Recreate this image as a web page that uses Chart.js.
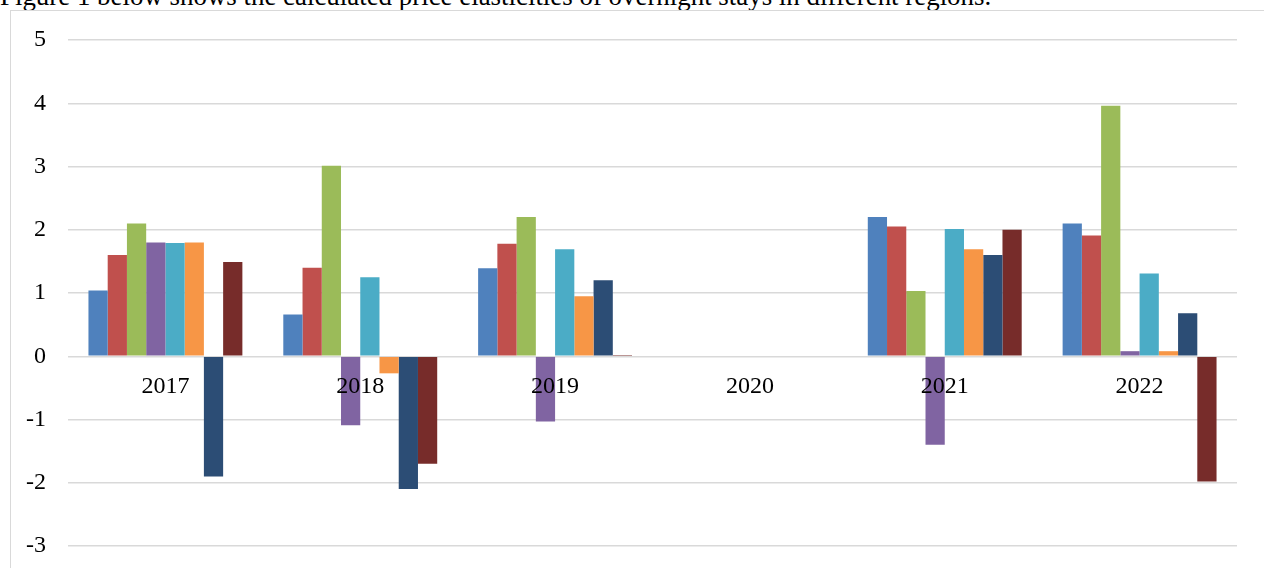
<!DOCTYPE html>
<html>
<head>
<meta charset="utf-8">
<script src="https://cdn.jsdelivr.net/npm/chart.js@4/dist/chart.umd.min.js"></script>
<style>
  html, body { margin: 0; padding: 0; background: #fff; overflow: hidden; }
  #page { position: relative; width: 1264px; height: 568px; overflow: hidden; }
  #caption {
    position: absolute; left: 0px; top: -17px; white-space: nowrap;
    font-family: "Liberation Serif", "Times New Roman", serif; font-size: 26.9px; line-height: 26.9px; color: #000;
  }
  #frame {
    position: absolute; left: 10px; top: 10px; width: 1300px; height: 600px;
    border: 1px solid #d9d9d9; box-sizing: border-box;
  }
  #wrap { position: absolute; left: 0; top: 0; width: 1264px; height: 568px; }
</style>
</head>
<body>
<div id="page">
  <div id="caption">Figure 1 below shows the calculated price elasticities of overnight stays in different regions.</div>
  <div id="frame"></div>
  <div id="wrap"><canvas id="chart-div"></canvas></div>
</div>
<script>
// years on the category axis
var anos = ['2017', '2018', '2019', '2020', '2021', '2022'];

// one series per region (2020 has no values)
var regiao1 = [1.04, 0.66, 1.39, null, 2.20, 2.10];
var regiao2 = [1.60, 1.40, 1.78, null, 2.05, 1.91];
var regiao3 = [2.10, 3.01, 2.20, null, 1.03, 3.96];
var regiao4 = [1.80, -1.09, -1.03, null, -1.40, 0.08];
var regiao5 = [1.79, 1.25, 1.69, null, 2.01, 1.31];
var regiao6 = [1.80, -0.27, 0.95, null, 1.69, 0.08];
var regiao7 = [-1.90, -2.10, 1.20, null, 1.60, 0.68];
var regiao8 = [1.49, -1.70, 0.02, null, 2.00, -1.98];

var nomes = ['Region 1', 'Region 2', 'Region 3', 'Region 4', 'Region 5', 'Region 6', 'Region 7', 'Region 8'];
var series = [regiao1, regiao2, regiao3, regiao4, regiao5, regiao6, regiao7, regiao8];
var cores = ['#4f81bd', '#c0504d', '#9bbb59', '#8064a2', '#4bacc6', '#f79646', '#2c4d75', '#772c2a'];

var fonte = { family: '"Liberation Serif", "Times New Roman", serif', size: 24 };

var datasets = series.map(function (d, i) {
    return {
        label: nomes[i],
        data: d,
        backgroundColor: cores[i],
        borderWidth: 0
    };
});

var ctx = document.getElementById('chart-div').getContext('2d');

new Chart(ctx, {
    type: 'bar',
    data: { labels: anos, datasets: datasets },
    options: {
        responsive: true,
        maintainAspectRatio: false,
        animation: false,
        events: [],
        layout: { padding: { left: 0, top: 40, right: 27, bottom: 22 } },
        datasets: { bar: { barPercentage: 1, categoryPercentage: 0.79 } },
        plugins: {
            legend: { display: false },
            title: { display: false },
            tooltip: { enabled: false }
        },
        scales: {
            x: {
                position: { y: 0 },
                afterFit: function (scale) { scale.height = 0; }, // axis sits on the zero line, takes no room
                grid: { display: false, drawTicks: false },
                border: { display: false },
                ticks: { color: '#000', font: fonte, padding: 16, maxRotation: 0, z: 1 }
            },
            y: {
                min: -3,
                max: 5,
                afterFit: function (scale) {
                    scale.width = 68;
                    // no extra room for half labels, the padding above sets the plot box
                    scale.paddingTop = 0;
                    scale.paddingBottom = 0;
                },
                grid: { color: '#d9d9d9', lineWidth: 1.5, drawTicks: false },
                border: { display: false },
                ticks: { color: '#000', font: fonte, padding: 22, stepSize: 1 }
            }
        }
    }
});
</script>
</body>
</html>
